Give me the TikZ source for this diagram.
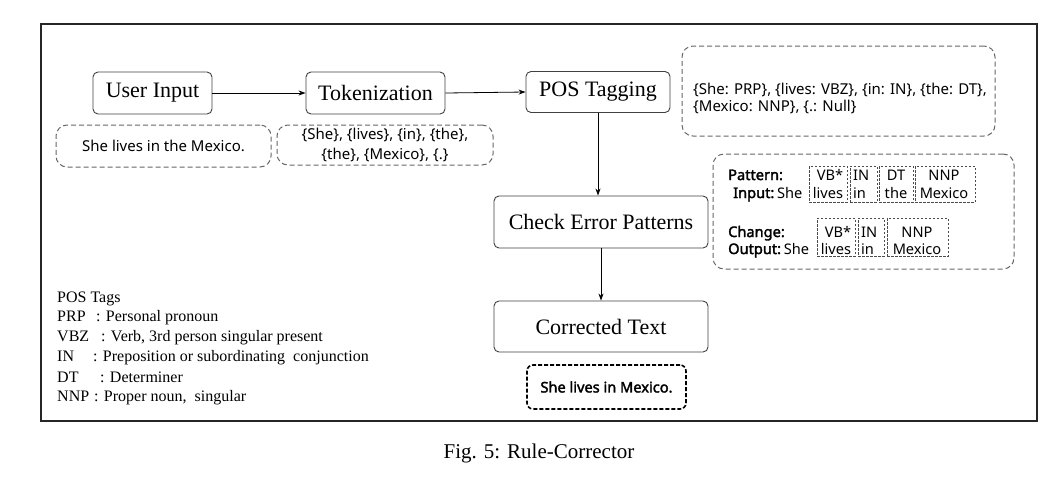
\documentclass[tikz,border=0pt]{standalone}
\usepackage{fontspec}
\setmainfont{Liberation Serif}
\newfontfamily\sansf{Noto Sans}
\newfontfamily\sansbf{Noto Sans}[FakeBold=2.2]
\usetikzlibrary{arrows.meta}
\tikzset{
  pbox/.style={draw=black!75, rounded corners=5pt, line width=0.9pt, inner sep=0pt,
    font=\fontsize{22}{26}\selectfont},
  dbox/.style={draw=black!60, dash pattern=on 5pt off 3pt, rounded corners=11pt, line width=1pt, inner sep=0pt},
  fbox/.style={draw=black, dash pattern=on 4pt off 2pt, rounded corners=6pt, line width=1.6pt, inner sep=0pt},
  sbox/.style={draw=black!70, dash pattern=on 2.5pt off 1.5pt, line width=0.6pt, inner sep=0pt},
  arr/.style={-{Stealth[length=7pt,width=5pt]}, line width=0.8pt},
  sans/.style={font=\sansf\fontsize{15}{20}\selectfont, inner sep=0pt},
  pt/.style={font=\sansf\fontsize{14.6}{17}\selectfont, inner sep=0pt, anchor=base west},
  ptc/.style={font=\sansf\fontsize{14.6}{17}\selectfont, inner sep=0pt, anchor=base},
  ptb/.style={font=\sansbf\fontsize{14.6}{17}\selectfont, inner sep=0pt, anchor=base west},
  leg/.style={font=\fontsize{16}{19}\selectfont, inner sep=0pt, anchor=base west},
}
\begin{document}
\begin{tikzpicture}[x=1pt,y=-1pt]
\useasboundingbox (0,0) rectangle (1060,480);
\draw[line width=1.6pt, draw=black!85] (41,24) rectangle (1037,421);

% main flow boxes
\node[pbox, minimum width=119pt, minimum height=42pt] (ui) at (152.5,93) {User Input};
\node[pbox, minimum width=139pt, minimum height=42pt] (tok) at (375.5,93) {Tokenization};
\node[pbox, minimum width=144pt, minimum height=41pt] (pos) at (598,92) {POS Tagging};
\node[pbox, minimum width=214pt, minimum height=52pt] (cep) at (601,222) {Check Error Patterns};
\node[pbox, minimum width=214pt, minimum height=51pt] (ct) at (601,326.5) {Corrected Text};

% dashed info boxes
\node[dbox, minimum width=215pt, minimum height=42pt] (sent) at (163.5,146) {};
\node[sans] (senttxt) at (sent.center) {She lives in the Mexico.};
\node[dbox, minimum width=216pt, minimum height=40pt] (toks) at (385,145) {};
\node[sans, align=center] (tokstxt) at (toks.center) {\{She\}, \{lives\}, \{in\}, \{the\},\\\{the\}, \{Mexico\}, \{.\}};
\node[dbox, minimum width=313pt, minimum height=90pt] (tags) at (838.5,91) {};
\node[sans, anchor=base west] (tags1) at (693,94) {\{She: PRP\}, \{lives: VBZ\}, \{in: IN\}, \{the: DT\},};
\node[sans, anchor=base west] (tags2) at (693,111) {\{Mexico: NNP\}, \{.: Null\}};
\node[dbox, minimum width=301pt, minimum height=115pt] (pat) at (863.5,211.5) {};
\node[fbox, minimum width=159pt, minimum height=44pt] (out) at (606.5,387) {};
\node[font=\sansbf\fontsize{14.6}{17}\selectfont, inner sep=0pt] (outtxt) at (out.center) {She lives in Mexico.};

% arrows
\draw[arr] (ui.east) -- (tok.west);
\draw[arr] (tok.east) -- (pos.west);
\draw[arr] (pos.south) -- (pos.south |- cep.north);
\draw[arr] (cep.south) -- (ct.north);

% pattern box contents
\node[ptb] (patl) at (728,180) {Pattern:};
\node[ptb] (inl) at (733,198) {Input:};
\node[pt] (ins) at (inl.base east) {\,She};
\node[sbox, minimum width=38pt, minimum height=36pt] (p1) at (828,184) {};
\node[sbox, minimum width=27pt, minimum height=36pt] (p2) at (863.5,184) {};
\node[sbox, minimum width=34pt, minimum height=36pt] (p3) at (896,184) {};
\node[sbox, minimum width=60pt, minimum height=36pt] (p4) at (945,184) {};
\node[ptc] (p1a) at (830,180) {VB*};
\node[ptc] (p1b) at (828,198) {lives};
\node[pt] (p2a) at (853,180) {IN};
\node[pt] (p2b) at (853,198) {in};
\node[ptc] (p3a) at (896,180) {DT};
\node[ptc] (p3b) at (896,198) {the};
\node[ptc] (p4a) at (944,180) {NNP};
\node[ptc] (p4b) at (944,198) {Mexico};

\node[ptb] (chl) at (728,237) {Change:};
\node[ptb] (oul) at (728,254) {Output:};
\node[pt] (ous) at (oul.base east) {\,She};
\node[sbox, minimum width=38pt, minimum height=38pt] (c1) at (836,237) {};
\node[sbox, minimum width=26pt, minimum height=38pt] (c2) at (871,237) {};
\node[sbox, minimum width=61pt, minimum height=38pt] (c3) at (917.5,237) {};
\node[ptc] (c1a) at (838,237) {VB*};
\node[ptc] (c1b) at (836,254) {lives};
\node[pt] (c2a) at (861,237) {IN};
\node[pt] (c2b) at (861,254) {in};
\node[ptc] (c3a) at (917,237) {NNP};
\node[ptc] (c3b) at (917,254) {Mexico};

% legend
\node[leg] (lg0) at (57,302) {POS Tags};
\node[leg] (lg1) at (57,321) {PRP};
\node[leg] (lg1d) at (96,321) {: Personal pronoun};
\node[leg] (lg2) at (57,341) {VBZ};
\node[leg] (lg2d) at (101,341) {: Verb, 3rd person singular present};
\node[leg] (lg3) at (57,361) {IN};
\node[leg] (lg3d) at (93,361) {: Preposition or subordinating\ \ conjunction};
\node[leg] (lg4) at (57,382) {DT};
\node[leg] (lg4d) at (100,382) {: Determiner};
\node[leg] (lg5) at (57,401) {NNP};
\node[leg] (lg5d) at (94,401) {: Proper noun,\ \ singular};

% caption
\node[font=\fontsize{21}{25}\selectfont, inner sep=0pt] (cap) at (539,453) {Fig. 5: Rule-Corrector};
\end{tikzpicture}
\end{document}
